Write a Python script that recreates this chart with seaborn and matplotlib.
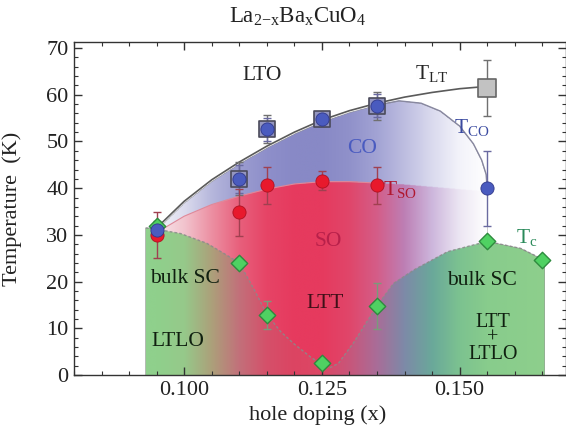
import numpy as np
import seaborn as sns
import matplotlib
matplotlib.use("Agg")
import matplotlib.pyplot as plt
import matplotlib.colors as mcolors
from matplotlib.ticker import MultipleLocator

# data
# T_LT (gray squares)
lt_x = [0.110, 0.115, 0.125, 0.135, 0.155]
lt_y = [42.0, 52.6, 54.8, 57.7, 61.5]
lt_err = [3.5, 3.0, 1.5, 3.0, 6.0]
# T_CO (blue circles)
co_x = [0.095, 0.110, 0.115, 0.125, 0.135, 0.155]
co_y = [31.0, 42.0, 52.6, 54.8, 57.7, 40.0]
co_err = [1.0, 3.0, 2.5, 1.5, 2.5, 8.0]
# T_SO (red circles)
so_x = [0.095, 0.110, 0.115, 0.125, 0.135]
so_y = [30.0, 34.8, 40.6, 41.6, 40.6]
so_err = [5.0, 5.0, 4.0, 2.0, 4.0]
# Tc (green diamonds)
tc_x = [0.095, 0.110, 0.115, 0.125, 0.135, 0.155, 0.165]
tc_y = [32.0, 24.0, 12.8, 2.6, 14.8, 28.6, 24.6]
tc_err = [1.0, 1.0, 3.0, 0.5, 5.0, 1.0, 0.5]

# phase boundaries (knots)
lt_line_x = [0.095, 0.100, 0.105, 0.110, 0.115, 0.120, 0.125, 0.130, 0.135, 0.140, 0.145, 0.150, 0.155]
lt_line_y = [31.5, 37.2, 41.8, 45.6, 49.0, 52.0, 54.6, 56.6, 58.2, 59.5, 60.5, 61.3, 61.8]
co_line_x = [0.095, 0.100, 0.105, 0.110, 0.115, 0.120, 0.125, 0.130, 0.135, 0.139, 0.143,
             0.1465, 0.150, 0.1525, 0.154, 0.1548, 0.155]
co_line_y = [31.0, 36.8, 41.4, 45.2, 48.6, 51.6, 54.2, 56.2, 57.8, 58.7, 58.2,
             56.5, 53.3, 49.5, 46.0, 43.0, 40.0]
so_line_x = [0.095, 0.100, 0.105, 0.110, 0.115, 0.120, 0.125, 0.130, 0.135, 0.140, 0.145, 0.150, 0.155]
so_line_y = [30.5, 34.0, 36.5, 38.3, 39.8, 40.9, 41.4, 41.4, 41.1, 40.8, 40.3, 39.8, 39.3]
tc_line_x = [0.093, 0.095, 0.0993, 0.1041, 0.1071, 0.110, 0.1126, 0.115, 0.1175, 0.120, 0.123,
             0.125, 0.1265, 0.128, 0.1308, 0.135, 0.138, 0.1417, 0.1478, 0.155, 0.1611, 0.165, 0.1655]
tc_line_y = [31.5, 31.2, 30.3, 28.2, 26.1, 24.0, 18.5, 13.0, 9.3, 6.6, 3.8,
             2.3, 1.6, 2.5, 7.0, 14.8, 19.6, 22.5, 26.4, 28.6, 27.1, 24.8, 24.5]

# colour stops of the shaded regions
stop_x = [0.093, 0.095, 0.100, 0.105, 0.110, 0.115, 0.120, 0.125, 0.130, 0.135, 0.140, 0.145, 0.150, 0.155, 0.166]
co_cols = ["#f4f4fa", "#f4f4fa", "#dcdcee", "#b6b7dc", "#9c9dd0", "#8e8fca", "#8889c6", "#8889c6",
           "#9091ca", "#a2a3d4", "#bdbde0", "#dadaee", "#f3f3fa", "#ffffff", "#ffffff"]
so_cols = ["#f8e6ea", "#f8e6ea", "#f2c4ce", "#ec8fa2", "#e8607c", "#e64466", "#e63a5e", "#e63a5e",
           "#e0466a", "#d45d88", "#bd7fb5", "#cdb6dc", "#ece6f3", "#ffffff", "#ffffff"]
sc_cols = ["#8fd08c", "#8fd08c", "#96c98a", "#aca07a", "#c2707a", "#d5506a", "#dc4462", "#dc4866",
           "#c8567a", "#a96d98", "#7d8aa8", "#6aa89a", "#7cc290", "#88cc8c", "#8ecf8c"]

sns.set_style("ticks")
plt.rcParams["font.family"] = ["Liberation Serif", "DejaVu Serif"]
plt.rcParams["mathtext.fontset"] = "custom"
plt.rcParams["mathtext.rm"] = "Liberation Serif"
plt.rcParams["mathtext.it"] = "Liberation Serif:italic"
plt.rcParams["mathtext.default"] = "regular"

fig = plt.figure(figsize=(5.66, 4.30), dpi=100)
ax = fig.add_axes([74 / 566, 55 / 430, 492 / 566, 333 / 430])
xmin, xmax, ymin, ymax = 0.080, 0.1693, 0.0, 71.3


def grad(cols, xs):
    rgb = np.array([mcolors.to_rgb(c) for c in cols])
    return np.stack([np.interp(xs, stop_x, rgb[:, i]) for i in range(3)], axis=1)


# shaded phase regions as one raster
xs = np.linspace(xmin, xmax, 900)
ys = np.linspace(ymin, ymax, 700)
tc_b = np.interp(xs, tc_line_x, tc_line_y)
co_b = np.where(xs <= 0.155, np.interp(xs, co_line_x, co_line_y), -1)
so_b = np.minimum(np.interp(xs, so_line_x, so_line_y), co_b)
Y = ys[:, None]
inx = (xs >= 0.093) & (xs <= 0.1655)
m_sc = (Y <= tc_b[None, :]) & inx[None, :]
m_so = ~m_sc & (Y <= so_b[None, :]) & (xs >= 0.095)[None, :]
m_co = ~m_sc & ~m_so & (Y <= co_b[None, :]) & (xs >= 0.095)[None, :]
img = np.zeros((len(ys), len(xs), 4))
for mask, cols in [(m_sc, sc_cols), (m_so, so_cols), (m_co, co_cols)]:
    c = grad(cols, xs)
    for i in range(3):
        img[..., i] = np.where(mask, c[None, :, i], img[..., i])
    img[..., 3] = np.where(mask, 1.0, img[..., 3])
ax.imshow(img, origin="lower", extent=[xmin, xmax, ymin, ymax], aspect="auto",
          interpolation="bilinear", zorder=0)

# boundary lines
sns.lineplot(x=tc_line_x, y=tc_line_y, ax=ax, color="#8a8a8a", lw=1.0, sort=False,
             zorder=2, alpha=0.85).lines[-1].set_dashes([2, 1.5])
sns.lineplot(x=so_line_x[:9], y=so_line_y[:9], ax=ax, color="#e08898", lw=0.8, sort=False, zorder=2)
sns.lineplot(x=co_line_x[8:], y=co_line_y[8:], ax=ax, color="#8888a0", lw=1.0, sort=False, zorder=2)
sns.lineplot(x=lt_line_x, y=lt_line_y, ax=ax, color="#5a5a5a", lw=1.2, sort=False, zorder=3)

# error bars
ax.errorbar(lt_x, lt_y, yerr=lt_err, fmt="none", ecolor="#707070", elinewidth=1, capsize=3, zorder=4)
ax.errorbar(co_x, co_y, yerr=co_err, fmt="none", ecolor="#6a6aa0", elinewidth=1, capsize=3, zorder=4)
ax.errorbar(so_x, so_y, yerr=so_err, fmt="none", ecolor="#a04050", elinewidth=1, capsize=3, zorder=4)
ax.errorbar(tc_x, tc_y, yerr=tc_err, fmt="none", ecolor="#7a9a7a", elinewidth=1, capsize=3, zorder=4)

# markers
sns.scatterplot(x=lt_x[:-1], y=lt_y[:-1], ax=ax, marker="s", s=140, color="#9496c0",
                edgecolor="#4a4a5a", linewidth=1.2, zorder=5)
sns.scatterplot(x=lt_x[-1:], y=lt_y[-1:], ax=ax, marker="s", s=180, color="#c2c2c2",
                edgecolor="#666666", linewidth=1.2, zorder=5)
sns.scatterplot(x=tc_x, y=tc_y, ax=ax, marker="D", s=70, color="#4fd162",
                edgecolor="#2e8b3e", linewidth=1.0, zorder=6)
sns.scatterplot(x=so_x, y=so_y, ax=ax, marker="o", s=90, color="#e8192c",
                edgecolor="#b01020", linewidth=0.6, zorder=6)
sns.scatterplot(x=co_x, y=co_y, ax=ax, marker="o", s=90, color="#4a5bbf",
                edgecolor="#30388a", linewidth=0.6, zorder=7)

# labels of the phases
fs = 15.5
ax.text(0.1142, 64.2, "LTO", fontsize=fs, ha="center", va="center", zorder=8)
ax.text(0.1450, 64.5, r"T$_{LT}$", fontsize=fs, ha="center", va="center", zorder=8)
ax.text(0.1522, 53.0, r"T$_{CO}$", fontsize=fs, color="#3a4aa0", ha="center", va="center", zorder=8)
ax.text(0.1323, 48.5, "CO", fontsize=fs, color="#4a5bc0", ha="center", va="center", zorder=8)
ax.text(0.1392, 39.8, r"T$_{SO}$", fontsize=fs, color="#b01830", ha="center", va="center", zorder=8)
ax.text(0.1262, 28.5, "SO", fontsize=fs, color="#b8204a", ha="center", va="center", zorder=8)
ax.text(0.1622, 29.5, r"T$_c$", fontsize=fs, color="#2a8a5a", ha="center", va="center", zorder=8)
ax.text(0.1002, 20.7, "bulk SC", fontsize=fs, color="#102010", ha="center", va="center", zorder=8)
ax.text(0.0988, 7.1, "LTLO", fontsize=fs, color="#102010", ha="center", va="center", zorder=8)
ax.text(0.1256, 15.3, "LTT", fontsize=fs, color="#401018", ha="center", va="center", zorder=8)
ax.text(0.1540, 20.3, "bulk SC", fontsize=fs, color="#102010", ha="center", va="center", zorder=8)
ax.text(0.1560, 7.8, "LTT\n+\nLTLO", fontsize=fs - 1, color="#102010", ha="center", va="center",
        linespacing=0.8, zorder=8)

ax.set_xlim(xmin, xmax)
ax.set_ylim(ymin, ymax)
ax.set_xticks([0.100, 0.125, 0.150])
ax.set_xticklabels(["0.100", "0.125", "0.150"])
ax.set_yticks(range(0, 71, 10))
ax.xaxis.set_minor_locator(MultipleLocator(0.005))
ax.yaxis.set_minor_locator(MultipleLocator(2))
ax.tick_params(which="both", direction="in", top=True, right=True, colors="#333333",
               labelsize=16, labelcolor="#222222")
ax.tick_params(which="major", length=6, width=1, pad=4)
ax.tick_params(which="minor", length=3, width=0.8)
for sp in ax.spines.values():
    sp.set_color("#333333")
    sp.set_linewidth(1.0)

ax.set_xlabel("hole doping (x)", fontsize=16, color="#222222")
ax.set_ylabel("Temperature  (K)", fontsize=16, color="#222222")
ax.xaxis.set_label_coords((318 - 74) / 492, -0.09)
ax.yaxis.set_label_coords(-(74 - 22) / 492, 0.5)
fig.text(298 / 566, 1 - 17 / 430, r"La$_{2\mathrm{-}x}$Ba$_x$CuO$_4$", fontsize=16.5,
         ha="center", va="center", color="#222222")

fig.savefig("out.png", dpi=100)
